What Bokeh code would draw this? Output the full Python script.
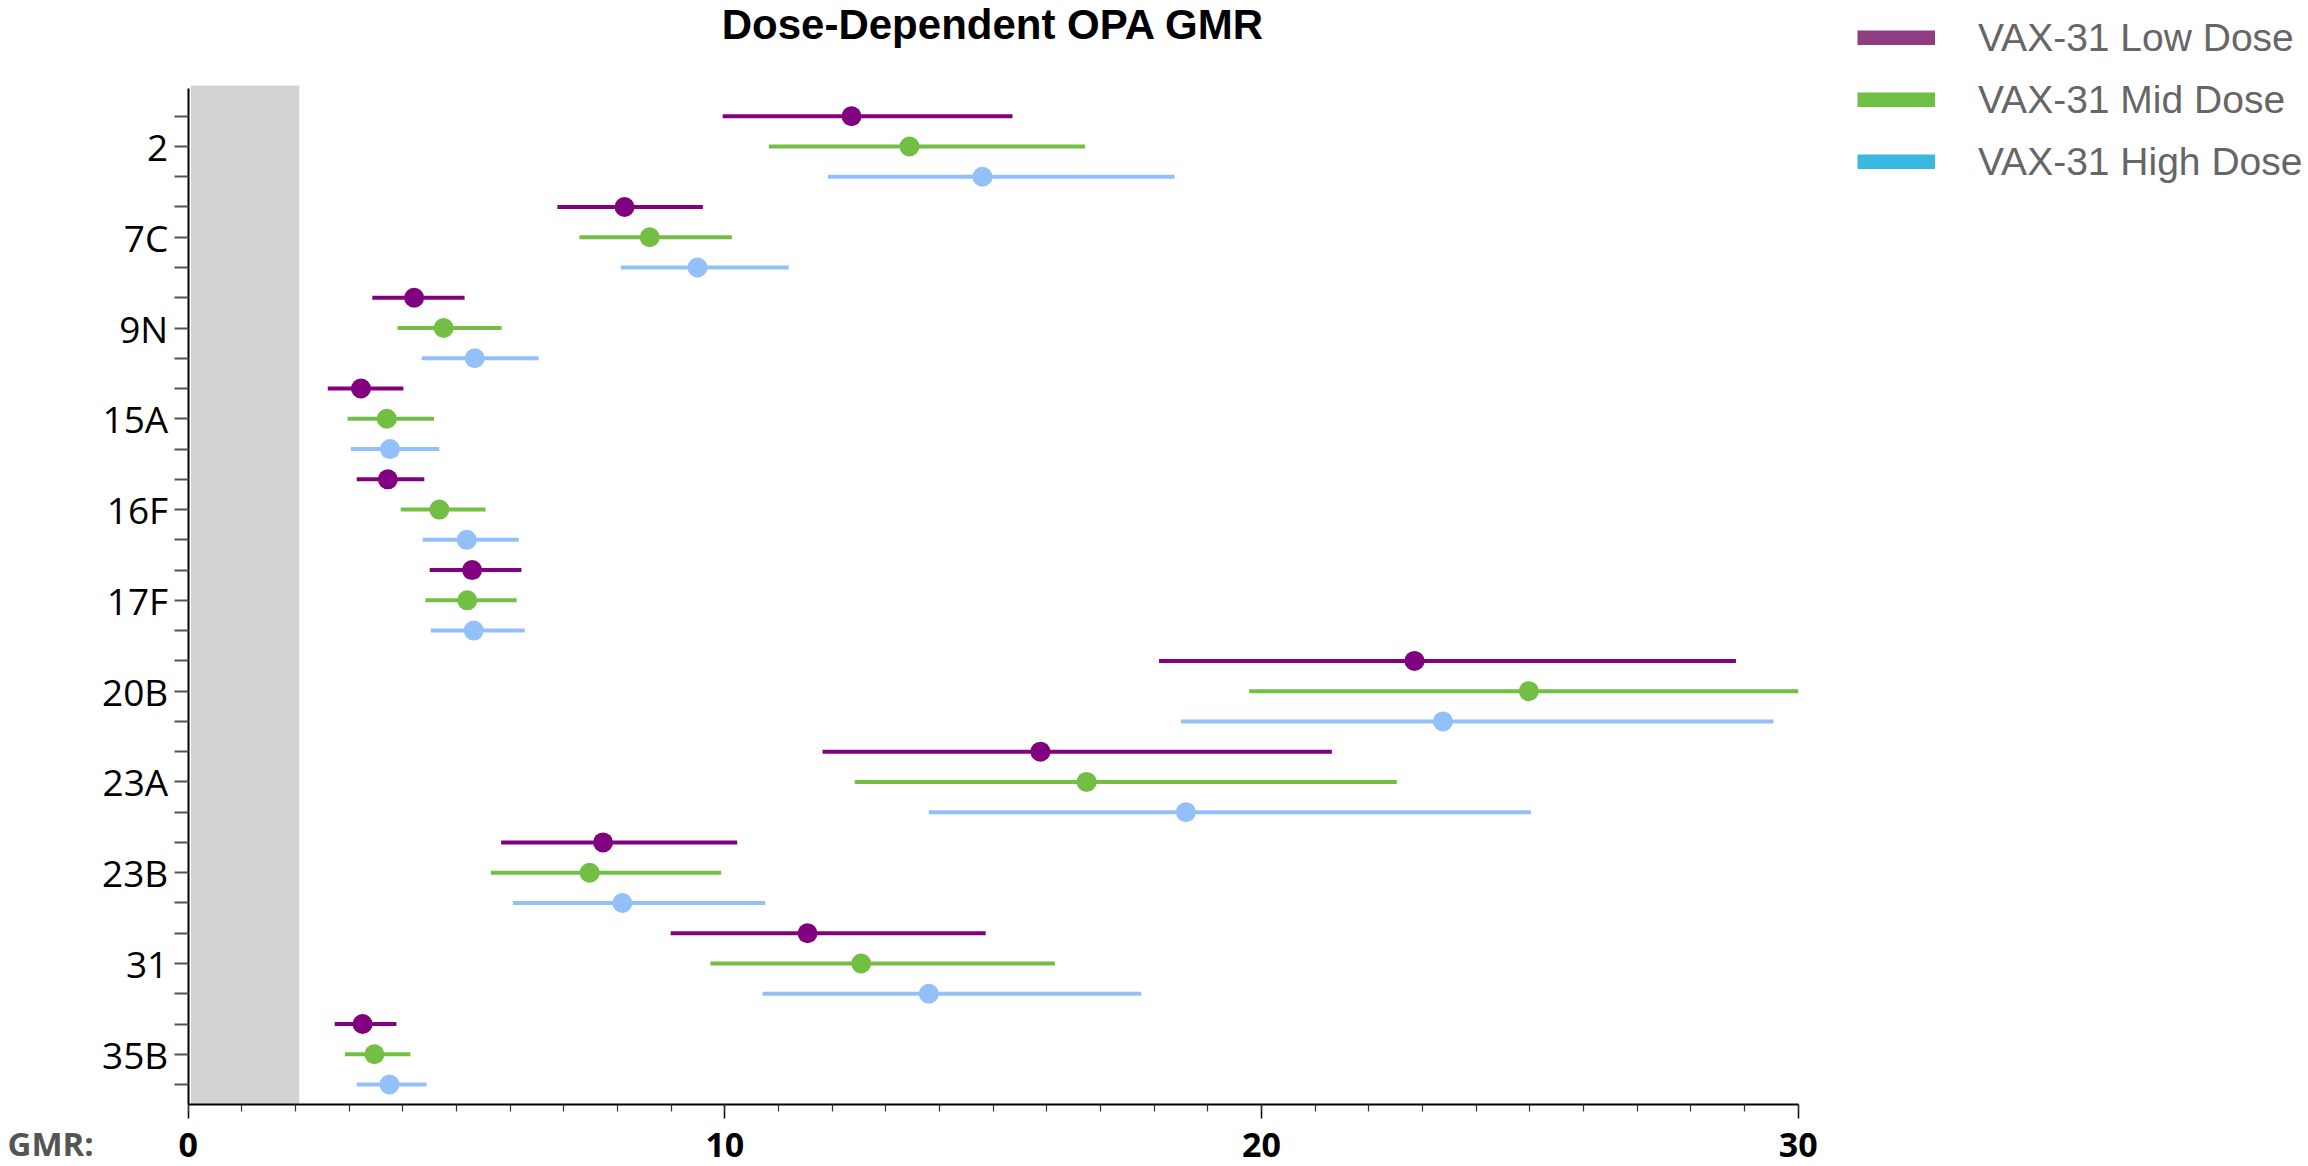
from bokeh.plotting import figure
from bokeh.models import Range1d, FixedTicker, BoxAnnotation, Legend, LegendItem, Label, ColumnDataSource
from bokeh.embed import file_html
from bokeh.resources import INLINE

# ---------------- data ----------------
categories = ["2", "7C", "9N", "15A", "16F", "17F", "20B", "23A", "23B", "31", "35B"]

series_names = ["VAX-31 Low Dose", "VAX-31 Mid Dose", "VAX-31 High Dose"]

low_gmr = [12.36, 8.13, 4.21, 3.22, 3.72, 5.29, 22.85, 15.88, 7.73, 11.54, 3.25]
low_lower = [9.96, 6.88, 3.43, 2.60, 3.14, 4.50, 18.09, 11.82, 5.83, 8.99, 2.73]
low_upper = [15.36, 9.59, 5.15, 4.01, 4.40, 6.21, 28.84, 21.31, 10.23, 14.86, 3.88]

mid_gmr = [13.44, 8.60, 4.76, 3.70, 4.68, 5.20, 24.98, 16.74, 7.48, 12.54, 3.47]
mid_lower = [10.82, 7.29, 3.90, 2.97, 3.96, 4.42, 19.77, 12.42, 5.64, 9.73, 2.92]
mid_upper = [16.71, 10.13, 5.84, 4.58, 5.54, 6.12, 30.00, 22.52, 9.93, 16.15, 4.14]

high_gmr = [14.80, 9.49, 5.34, 3.76, 5.19, 5.32, 23.38, 18.59, 8.09, 13.80, 3.75]
high_lower = [11.92, 8.06, 4.35, 3.03, 4.37, 4.52, 18.50, 13.80, 6.05, 10.70, 3.14]
high_upper = [18.38, 11.19, 6.53, 4.68, 6.16, 6.27, 29.54, 25.02, 10.75, 17.76, 4.44]

x_ticks = [0, 10, 20, 30]
x_min, x_max = 0, 30
shaded_upper = 2.07  # shaded region limit (GMR)

# ---------------- layout (pixels) ----------------
W, H = 2308, 1166
PX_X0 = 187.7        # pixel of GMR = 0
PX_PER_UNIT = 53.667  # pixels per GMR unit
PX_ROW0 = 115.7      # pixel of the first row
PX_PER_ROW = 30.26   # pixels between rows
PX_AXIS_TOP = 88.0
PX_AXIS_BOTTOM = 1104.0
PX_BAND_TOP = 85.0


def dx(px):
    return (px - PX_X0) / PX_PER_UNIT


def dy(py):
    return -(py - PX_ROW0) / PX_PER_ROW


marker_colors = ["#800080", "#72BF44", "#93C0F8"]
legend_colors = ["#8E3E80", "#70BF45", "#3BB8E0"]

series = [
    (low_gmr, low_lower, low_upper),
    (mid_gmr, mid_lower, mid_upper),
    (high_gmr, high_lower, high_upper),
]
n_series = len(series)
n_rows = len(categories) * n_series

p = figure(
    frame_width=W, frame_height=H,
    min_border_left=0, min_border_right=0, min_border_top=0, min_border_bottom=0,
    x_range=Range1d(dx(0), dx(W)), y_range=Range1d(dy(H), dy(0)),
    output_backend="svg", toolbar_location=None,
)
p.outline_line_color = None
p.xgrid.visible = False
p.ygrid.visible = False
p.background_fill_color = "white"
p.border_fill_color = "white"

y_axis_bottom = dy(PX_AXIS_BOTTOM)

p.add_layout(BoxAnnotation(left=0.05, right=shaded_upper, bottom=y_axis_bottom, top=dy(PX_BAND_TOP),
                           fill_color="#D3D3D3", fill_alpha=1.0, line_alpha=0, level="underlay"))

for s, (gmr, lo, hi) in enumerate(series):
    ys = [-(c * n_series + s) for c in range(len(categories))]
    src = ColumnDataSource(dict(y=ys, gmr=gmr, lo=lo, hi=hi))
    p.segment(x0="lo", x1="hi", y0="y", y1="y", source=src,
              line_color=marker_colors[s], line_width=4)
    p.scatter(x="gmr", y="y", source=src, size=20, marker="circle",
              fill_color=marker_colors[s], line_color=None)

# legend (swatches drawn by legend-only line renderers holding no visible point)
nan = float("nan")
items = []
for name, col in zip(series_names, legend_colors):
    r = p.line(x=[nan], y=[nan], line_color=col, line_width=15)
    items.append(LegendItem(label=name, renderers=[r]))
legend = Legend(items=items, location=(1857, H - 183.7), orientation="vertical",
                glyph_width=78, glyph_height=15, label_height=44, spacing=18,
                padding=0, margin=0, label_standoff=43,
                label_text_font="Liberation Sans", label_text_font_size="39px",
                label_text_color="#666666", border_line_alpha=0,
                background_fill_alpha=0)
p.add_layout(legend)

# title
p.add_layout(Label(x=(x_min + x_max) / 2, y=dy(24), text="Dose-Dependent OPA GMR",
                   text_font="Liberation Sans", text_font_style="bold",
                   text_font_size="42px", text_color="black",
                   text_align="center", text_baseline="middle"))

# x axis
xa = p.xaxis[0]
xa.fixed_location = y_axis_bottom
xa.bounds = (x_min, x_max)
xa.ticker = FixedTicker(ticks=x_ticks, minor_ticks=list(range(x_min, x_max + 1)))
xa.axis_line_color = "black"
xa.axis_line_width = 2
xa.major_tick_line_color = "black"
xa.major_tick_line_width = 1.5
xa.major_tick_out = 14
xa.major_tick_in = 0
xa.minor_tick_line_color = "#333333"
xa.minor_tick_line_width = 1.2
xa.minor_tick_out = 7
xa.minor_tick_in = 0
xa.major_label_text_font = "Open Sans"
xa.major_label_text_font_style = "bold"
xa.major_label_text_font_size = "34px"
xa.major_label_text_color = "black"
xa.major_label_standoff = 14

# y axis
ya = p.yaxis[0]
ya.fixed_location = x_min
ya.bounds = (y_axis_bottom, dy(PX_AXIS_TOP))
tick_pos = list(range(0, -n_rows, -1))
ya.ticker = FixedTicker(ticks=tick_pos, minor_ticks=[])
overrides = {t: "" for t in tick_pos}
for c, cat in enumerate(categories):
    overrides[-(c * n_series + 1)] = cat
ya.major_label_overrides = overrides
ya.axis_line_color = "black"
ya.axis_line_width = 2
ya.major_tick_line_color = "#555555"
ya.major_tick_line_width = 2
ya.major_tick_out = 14
ya.major_tick_in = 0
ya.minor_tick_line_color = None
ya.major_label_text_font = "Open Sans"
ya.major_label_text_font_size = "37px"
ya.major_label_text_color = "black"
ya.major_label_standoff = 6

p.add_layout(Label(x=dx(7), y=dy(1143), text="GMR:",
                   text_font="Open Sans", text_font_style="bold",
                   text_font_size="33px", text_color="#555555",
                   text_baseline="middle", text_align="left"))

open("out.html", "w").write(file_html(p, INLINE))
